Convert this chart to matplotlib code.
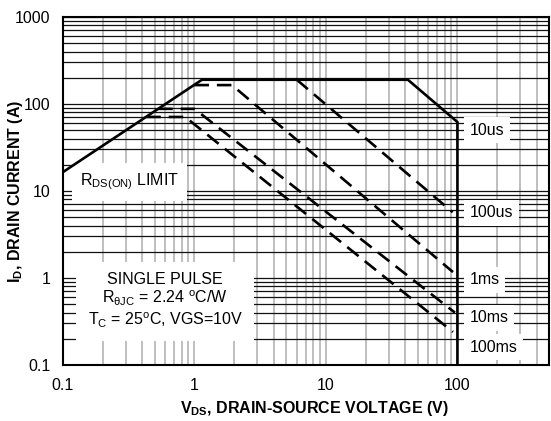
import matplotlib
matplotlib.use('Agg')
import matplotlib.pyplot as plt
from matplotlib.ticker import FixedLocator, NullFormatter

plt.rcParams['font.family'] = ['Liberation Sans', 'DejaVu Sans']
plt.rcParams['mathtext.fontset'] = 'custom'
plt.rcParams['mathtext.rm'] = 'Liberation Sans'
plt.rcParams['mathtext.it'] = 'Liberation Sans:italic'
plt.rcParams['mathtext.bf'] = 'Liberation Sans:bold'

# SOA boundary (RDS(on) limit, current limit, 10us, max VDS)
bound_v = [0.1, 1.14, 42, 100, 100]
bound_i = [16.5, 190, 190, 62, 0.1]

# pulse-width curves (dashed)
us100_v = [6.0, 92]
us100_i = [190, 5.7]
ms1_v = [1.0, 1.93, 92.5]
ms1_i = [165, 165, 1.17]
ms10_v = [0.53, 1.0, 95.7]
ms10_i = [88, 88, 0.40]
ms100_v = [0.43, 0.85, 92.5]
ms100_i = [71, 71, 0.24]

curve_labels = ['10us', '100us', '1ms', '10ms', '100ms']
label_i = [50, 5.6, 0.95, 0.35, 0.16]

xticks = [0.1, 1, 10, 100]
xticklabels = ['0.1', '1', '10', '100']
yticks = [0.1, 1, 10, 100, 1000]
yticklabels = ['0.1', '1', '10', '100', '1000']

fig = plt.figure(figsize=(5.51, 4.21), dpi=100)
ax = fig.add_axes([0.1143, 0.133, 0.8827, 0.8266])
ax.set_xscale('log')
ax.set_yscale('log')
ax.set_xlim(0.1, 500)
ax.set_ylim(0.1, 1000)

ax.set_xticks(xticks)
ax.set_xticklabels(xticklabels)
ax.set_yticks(yticks)
ax.set_yticklabels(yticklabels)
ax.xaxis.set_minor_locator(FixedLocator([m * d for d in [0.1, 1, 10, 100] for m in range(2, 10) if m * d < 500]))
ax.yaxis.set_minor_locator(FixedLocator([m * d for d in [0.1, 1, 10, 100] for m in range(2, 10)]))
ax.xaxis.set_minor_formatter(NullFormatter())
ax.yaxis.set_minor_formatter(NullFormatter())
ax.tick_params(which='both', length=0, labelsize=11.5, pad=9)

ax.grid(axis='x', which='both', color='#b4b4b4', lw=1.2, zorder=0)
ax.grid(axis='y', which='both', color='#111111', lw=0.9, zorder=0)
ax.set_axisbelow(True)
for s in ax.spines.values():
    s.set_linewidth(1.5)

ax.plot(bound_v, bound_i, color='black', lw=1.9, zorder=5)
for v, i in [(us100_v, us100_i), (ms1_v, ms1_i), (ms10_v, ms10_i), (ms100_v, ms100_i)]:
    ax.plot(v, i, color='black', lw=1.9, dashes=(5.5, 3), zorder=5)

box = dict(facecolor='white', edgecolor='none', pad=4)
for lab, yi in zip(curve_labels, label_i):
    ax.text(124, yi, lab, fontsize=11.5, ha='left', va='center', bbox=box, zorder=3)

ax.text(0.32, 12.7, r'R$_{\mathrm{DS(ON)}}$ LIMIT', fontsize=11.5, ha='center', va='center',
        bbox=dict(facecolor='white', edgecolor='none', pad=6), zorder=3)

ax.text(0.6, 0.55,
        'SINGLE PULSE\n' + r'R$_{\mathrm{θJC}}$ = 2.24 $^{\mathrm{o}}$C/W' + '\n'
        + r'T$_{\mathrm{C}}$ = 25$^{\mathrm{o}}$C, VGS=10V',
        fontsize=11.5, ha='center', va='center', multialignment='center', linespacing=1.15,
        bbox=dict(facecolor='white', edgecolor='none', pad=8), zorder=3)

fig.text(314 / 551, 1 - 408 / 421, r'$\mathbf{V_{DS}}$, DRAIN-SOURCE VOLTAGE (V)',
         fontsize=11.5, fontweight='bold', ha='center', va='center')
fig.text(16 / 551, 1 - 191 / 421, r'$\mathbf{I_{D}}$, DRAIN CURRENT (A)',
         fontsize=11.5, fontweight='bold', ha='center', va='center', rotation=90)

fig.savefig('out.png', dpi=100)
